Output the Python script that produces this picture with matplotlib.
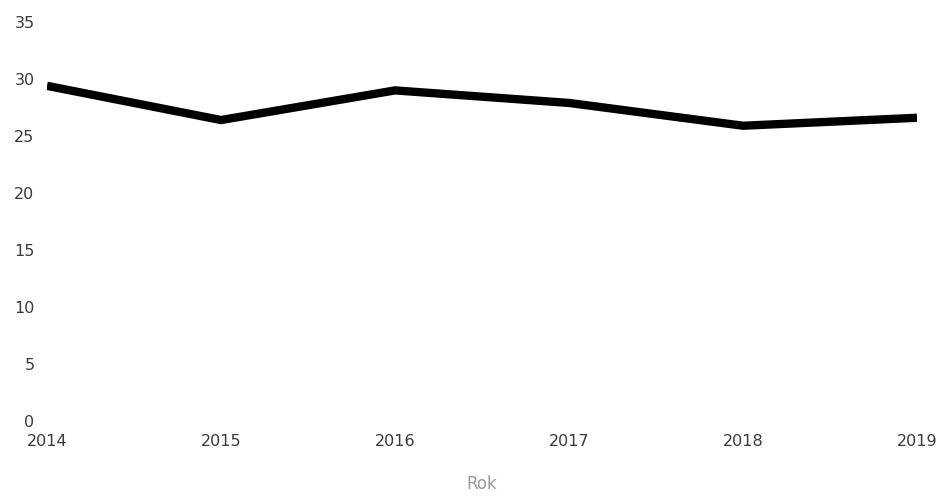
import matplotlib.pyplot as plt

years = [2014, 2015, 2016, 2017, 2018, 2019]
values = [29.4, 26.4, 29.0, 27.9, 25.9, 26.6]
yticks = [0, 5, 10, 15, 20, 25, 30, 35]

plt.rcParams['font.family'] = ['DejaVu Sans']

fig = plt.figure(figsize=(9.42, 4.97), dpi=100)
ax = fig.add_axes([47/942, 1 - 421/497, (917-47)/942, (421-22)/497])

ax.plot(years, values, color='black', lw=6, solid_capstyle='butt', solid_joinstyle='miter')

ax.set_xlim(years[0], years[-1])
ax.set_ylim(0, 35)
ax.set_xticks(years)
ax.set_yticks(yticks)
ax.tick_params(axis='both', length=0, labelsize=11.5, labelcolor='#3a3a3a')
ax.tick_params(axis='x', pad=9)
ax.tick_params(axis='y', pad=9)
for s in ax.spines.values():
    s.set_visible(False)
ax.set_xlabel('Rok', color='#999999', fontsize=12, labelpad=19)

fig.savefig('out.png', dpi=100)
